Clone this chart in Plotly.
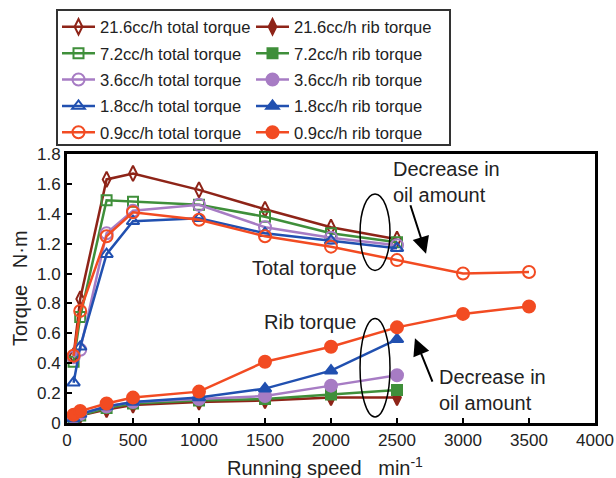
import plotly.graph_objects as go

speed = [50, 100, 300, 500, 1000, 1500, 2000, 2500]
speed_09 = [50, 100, 300, 500, 1000, 1500, 2000, 2500, 3000, 3500]

total_216 = [0.45, 0.83, 1.63, 1.67, 1.56, 1.43, 1.31, 1.23]
total_72 = [0.41, 0.71, 1.49, 1.48, 1.46, 1.38, 1.27, 1.21]
total_36 = [0.44, 0.49, 1.27, 1.42, 1.46, 1.31, 1.24, 1.19]
total_18 = [0.27, 0.51, 1.13, 1.35, 1.37, 1.27, 1.22, 1.17]
total_09 = [0.45, 0.75, 1.25, 1.41, 1.36, 1.25, 1.18, 1.09, 1.00, 1.01]

rib_216 = [0.03, 0.05, 0.09, 0.12, 0.14, 0.15, 0.17, 0.17]
rib_72 = [0.03, 0.05, 0.10, 0.13, 0.15, 0.16, 0.19, 0.22]
rib_36 = [0.04, 0.06, 0.11, 0.14, 0.16, 0.18, 0.25, 0.32]
rib_18 = [0.03, 0.06, 0.11, 0.14, 0.17, 0.23, 0.35, 0.56]
rib_09 = [0.055, 0.08, 0.13, 0.17, 0.21, 0.41, 0.51, 0.64, 0.73, 0.78]

y_ticks = [0, 0.2, 0.4, 0.6, 0.8, 1.0, 1.2, 1.4, 1.6, 1.8]
y_labels = ["0", "0.2", "0.4", "0.6", "0.8", "1.0", "1.2", "1.4", "1.6", "1.8"]
x_ticks = [0, 500, 1000, 1500, 2000, 2500, 3000, 3500, 4000]

C216 = "#8e2418"
C72 = "#3f8f3a"
C36 = "#a77cc4"
C18 = "#2150b0"
C09 = "#f24b22"

series = [
    ("21.6cc/h total torque", speed, total_216, C216, "diamond-tall-open", 11, "legend"),
    ("21.6cc/h rib torque", speed, rib_216, C216, "diamond-tall", 11, "legend2"),
    ("7.2cc/h total torque", speed, total_72, C72, "square-open", 10, "legend"),
    ("7.2cc/h rib torque", speed, rib_72, C72, "square", 10, "legend2"),
    ("3.6cc/h total torque", speed, total_36, C36, "circle-open", 12, "legend"),
    ("3.6cc/h rib torque", speed, rib_36, C36, "circle", 12, "legend2"),
    ("1.8cc/h total torque", speed, total_18, C18, "triangle-up-open", 11, "legend"),
    ("1.8cc/h rib torque", speed, rib_18, C18, "triangle-up", 11, "legend2"),
    ("0.9cc/h total torque", speed_09, total_09, C09, "circle-open", 12, "legend"),
    ("0.9cc/h rib torque", speed_09, rib_09, C09, "circle", 12, "legend2"),
]

fig = go.Figure()
for name, xs, ys, col, sym, sz, leg in series:
    fig.add_trace(go.Scatter(
        x=xs, y=ys, name=name, mode="lines+markers", legend=leg, legendgroup=name,
        line=dict(color=col, width=2.5),
        marker=dict(symbol=sym, size=sz, color=col, line=dict(color=col, width=2)),
    ))

FONT = "Arial"
LFONT = "Liberation Sans Narrow, Arial Narrow, Arial"

legend_common = dict(
    orientation="v", xref="container", yref="container",
    y=1 - 9.5 / 478, xanchor="left", yanchor="top",
    borderwidth=0, bgcolor="rgba(0,0,0,0)",
    font=dict(family=LFONT, size=16.6, color="#222"),
    itemwidth=33, traceorder="grouped", tracegroupgap=1.8,
)

fig.update_layout(
    width=616, height=478,
    margin=dict(l=67, r=21, t=154, b=55, autoexpand=False),
    paper_bgcolor="white", plot_bgcolor="white",
    font=dict(family=FONT, size=16, color="#222"),
    showlegend=True,
    legend=dict(x=57 / 616, **legend_common),
    legend2=dict(x=251 / 616, **legend_common),
    xaxis=dict(
        range=[0, 4000], tickvals=x_ticks, ticks="inside", ticklen=5, tickwidth=1.5,
        tickcolor="black", showgrid=False, zeroline=False, automargin=False,
        showline=True, linecolor="black", linewidth=3, mirror=True,
        tickfont=dict(size=17, family=FONT, color="#222"),
    ),
    yaxis=dict(
        range=[0, 1.8], tickvals=y_ticks, ticktext=y_labels, ticks="inside", ticklen=5, tickwidth=1.5,
        tickcolor="black", showgrid=False, zeroline=False, automargin=False,
        showline=True, linecolor="black", linewidth=3, mirror=True,
        tickfont=dict(size=17, family=FONT, color="#222"),
    ),
)

# axis titles
title_font = dict(family=FONT, size=20, color="#222")
fig.add_annotation(xref="paper", yref="paper", x=(325 - 67) / 528, y=(423 - 466) / 269,
                   text="Running speed   min<sup>-1</sup>", showarrow=False,
                   xanchor="center", yanchor="middle", font=title_font)
fig.add_annotation(xref="paper", yref="paper", x=(20 - 67) / 528, y=(423 - 288) / 269,
                   text="Torque   N·m", showarrow=False, textangle=-90,
                   xanchor="center", yanchor="middle", font=title_font)

# legend frame
fig.add_shape(type="rect", xref="paper", yref="paper",
              x0=(57 - 67) / 528, x1=(450 - 67) / 528,
              y0=(423 - 145) / 269, y1=(423 - 10) / 269,
              line=dict(color="#333", width=2))

ann_font = dict(family=FONT, size=20, color="#222")
fig.add_annotation(x=2455, y=1.613, text="Decrease in<br>oil amount", showarrow=False,
                   xanchor="left", yanchor="middle", align="left", font=ann_font)
fig.add_annotation(x=2803, y=0.22, text="Decrease in<br>oil amount", showarrow=False,
                   xanchor="left", yanchor="middle", align="left", font=ann_font)
fig.add_annotation(x=1386, y=1.04, text="Total torque", showarrow=False,
                   xanchor="left", yanchor="middle", font=ann_font)
fig.add_annotation(x=1477, y=0.673, text="Rib torque", showarrow=False,
                   xanchor="left", yanchor="middle", font=ann_font)

# arrows
fig.add_annotation(x=2720, y=1.133, ax=2598, ay=1.467, xref="x", yref="y", axref="x", ayref="y",
                   text="", showarrow=True, arrowhead=2, arrowsize=1.7, arrowwidth=2, arrowcolor="black")
fig.add_annotation(x=2636, y=0.567, ax=2773, ay=0.267, xref="x", yref="y", axref="x", ayref="y",
                   text="", showarrow=True, arrowhead=2, arrowsize=1.7, arrowwidth=2, arrowcolor="black")

# ellipses
fig.add_shape(type="circle", xref="x", yref="y", x0=2220, x1=2447, y0=1.02, y1=1.533,
              line=dict(color="black", width=1.5))
fig.add_shape(type="circle", xref="x", yref="y", x0=2220, x1=2447, y0=0.04, y1=0.70,
              line=dict(color="black", width=1.5))

fig.write_html("out.html", config={"displayModeBar": False},
               post_script="document.body.style.margin='0';")
